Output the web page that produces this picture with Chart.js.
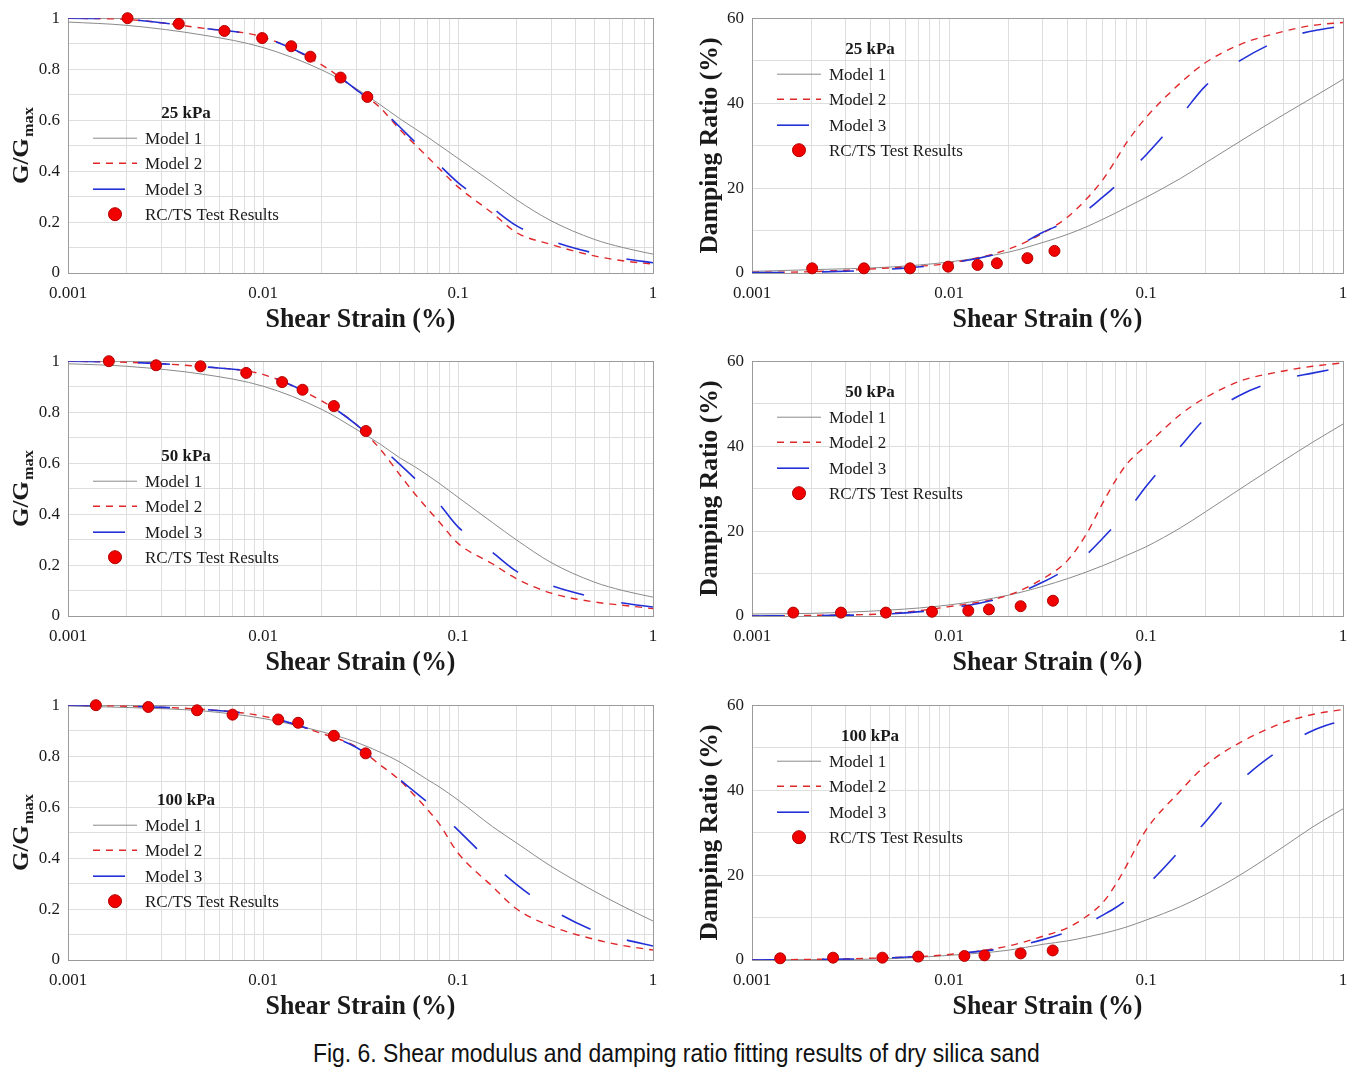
<!DOCTYPE html>
<html>
<head>
<meta charset="utf-8">
<script src="https://cdn.jsdelivr.net/npm/chart.js@4.4.1/dist/chart.umd.min.js"></script>
<style>
  body { margin: 0; background: #fff; width: 1366px; height: 1073px; position: relative; overflow: hidden; }
  .panel { position: absolute; height: 340px; }
  .panel.left { left: 0; width: 675px; }
  .panel.right { left: 680px; width: 686px; }
  #caption { position: absolute; top: 1038px; left: 313px; white-space: nowrap; transform-origin: 0 0;
             font: 26px "Liberation Sans", "DejaVu Sans", sans-serif; color: #111; }
</style>
</head>
<body>
<div class="panel left" style="top:0"><canvas id="g25"></canvas></div>
<div class="panel right" style="top:0"><canvas id="d25"></canvas></div>
<div class="panel left" style="top:343px"><canvas id="g50"></canvas></div>
<div class="panel right" style="top:343px"><canvas id="d50"></canvas></div>
<div class="panel left" style="top:687px"><canvas id="g100"></canvas></div>
<div class="panel right" style="top:687px"><canvas id="d100"></canvas></div>
<div id="caption">Fig. 6. Shear modulus and damping ratio fitting results of dry silica sand</div>

<script>
// --- data ---
const STRAIN = [0.001, 0.002, 0.005, 0.01, 0.02, 0.03, 0.04, 0.05, 0.06, 0.07, 0.08, 0.1, 0.15, 0.2, 0.3, 0.5, 0.7, 1];

const G25_M1 = [0.985, 0.972, 0.933, 0.885, 0.797, 0.724, 0.66, 0.607, 0.567, 0.533, 0.502, 0.450, 0.355, 0.287, 0.205, 0.132, 0.10, 0.074];
const G25_M2 = [1.0, 0.995, 0.96, 0.926, 0.817, 0.72, 0.648, 0.565, 0.505, 0.455, 0.41, 0.338, 0.235, 0.158, 0.112, 0.067, 0.048, 0.035];
const G25_M3 = [1.0, 0.995, 0.96, 0.925, 0.82, 0.72, 0.645, 0.575, 0.515, 0.47, 0.425, 0.355, 0.255, 0.185, 0.127, 0.078, 0.057, 0.04];
const D25_M1 = [0.39, 0.78, 1.4, 2.6, 4.9, 7.2, 9.1, 10.9, 12.6, 14.1, 15.5, 17.8, 22.3, 25.9, 31.0, 37.3, 41.3, 45.6];
const D25_M2 = [0.15, 0.3, 1.2, 2.3, 5.6, 9.4, 13.2, 17.5, 21.8, 26.5, 30.8, 36.6, 44.8, 49.5, 53.8, 56.9, 58.3, 59.0];
const D25_M3 = [0.1, 0.2, 0.9, 2.3, 5.4, 9.6, 12.2, 14.8, 17.8, 20.5, 23.3, 27.8, 37.0, 44.0, 50.0, 55.2, 57.0, 58.2];

const G50_M1 = [0.99, 0.98, 0.948, 0.902, 0.811, 0.733, 0.674, 0.622, 0.586, 0.552, 0.521, 0.466, 0.367, 0.298, 0.21, 0.133, 0.10, 0.074];
const G50_M2 = [1.0, 0.996, 0.978, 0.948, 0.844, 0.752, 0.654, 0.557, 0.48, 0.42, 0.37, 0.285, 0.205, 0.146, 0.09, 0.055, 0.042, 0.029];
const G50_M3 = [1.0, 0.996, 0.978, 0.948, 0.845, 0.752, 0.665, 0.597, 0.54, 0.485, 0.44, 0.35, 0.25, 0.175, 0.12, 0.073, 0.051, 0.035];
const D50_M1 = [0.47, 0.62, 1.4, 2.6, 4.9, 7.0, 8.8, 10.4, 11.8, 13.1, 14.3, 16.3, 20.8, 24.5, 29.9, 36.6, 40.9, 45.2];
const D50_M2 = [0.0, 0.15, 0.6, 2.2, 4.9, 8.8, 13.1, 19.4, 26.4, 31.9, 35.8, 40.1, 47.5, 51.4, 55.3, 57.7, 58.8, 59.6];
const D50_M3 = [0.0, 0.1, 0.5, 1.8, 4.7, 8.0, 11.2, 14.5, 18.2, 21.5, 24.5, 30.5, 40.0, 46.5, 52.0, 55.8, 57.2, 58.6];

const G100_M1 = [0.997, 0.991, 0.977, 0.948, 0.896, 0.855, 0.815, 0.778, 0.74, 0.707, 0.68, 0.628, 0.524, 0.459, 0.368, 0.27, 0.211, 0.153];
const G100_M2 = [1.0, 0.996, 0.983, 0.957, 0.889, 0.837, 0.765, 0.707, 0.645, 0.589, 0.535, 0.42, 0.289, 0.2, 0.133, 0.081, 0.057, 0.039];
const G100_M3 = [1.0, 0.996, 0.983, 0.957, 0.89, 0.835, 0.77, 0.71, 0.66, 0.618, 0.58, 0.51, 0.378, 0.296, 0.2, 0.115, 0.082, 0.055];
const D100_M1 = [0.0, 0.1, 0.3, 1.1, 2.3, 3.7, 4.5, 5.4, 6.2, 7.0, 7.8, 9.4, 12.6, 15.4, 20.0, 26.7, 31.3, 35.6];
const D100_M2 = [0.0, 0.15, 0.55, 1.3, 3.3, 5.6, 7.6, 10.3, 13.4, 17.7, 22.4, 30.6, 39.9, 45.8, 51.2, 55.9, 57.8, 59.0];
const D100_M3 = [0.0, 0.1, 0.5, 1.4, 2.9, 4.8, 6.6, 8.5, 10.5, 12.3, 14.2, 17.5, 26.0, 32.5, 42.0, 50.1, 54.0, 56.5];

// RC/TS test points
const TEST25_STRAIN = [0.00202, 0.0037, 0.00634, 0.0099, 0.01396, 0.0175, 0.025, 0.0343];
const TEST25_G = [1.0, 0.978, 0.95, 0.922, 0.89, 0.849, 0.767, 0.691];
const TEST25_D = [1.1, 1.1, 1.1, 1.5, 1.9, 2.3, 3.5, 5.2];
const TEST50_STRAIN = [0.00162, 0.00283, 0.00478, 0.0082, 0.01253, 0.01595, 0.0231, 0.0337];
const TEST50_G = [1.0, 0.984, 0.98, 0.954, 0.918, 0.888, 0.824, 0.726];
const TEST50_D = [0.8, 0.8, 0.8, 1.0, 1.25, 1.55, 2.3, 3.6];
const TEST100_STRAIN = [0.00139, 0.00258, 0.00459, 0.00698, 0.01197, 0.01514, 0.0231, 0.0336];
const TEST100_G = [1.0, 0.993, 0.98, 0.963, 0.944, 0.931, 0.88, 0.811];
const TEST100_D = [0.4, 0.55, 0.55, 0.8, 0.95, 1.1, 1.55, 2.25];

// tick labels / texts
const X_TICK_LABELS = ['0.001', '0.01', '0.1', '1'];
const G_TICK_LABELS = ['0', '0.2', '0.4', '0.6', '0.8', '1'];
const D_TICK_LABELS = ['0', '20', '40', '60'];
const LEGEND_LABELS = ['Model 1', 'Model 2', 'Model 3', 'RC/TS Test Results'];
const X_TITLE = 'Shear Strain (%)';
const D_TITLE = 'Damping Ratio (%)';

const SERIF = "'Liberation Serif', 'DejaVu Serif', serif";
Chart.defaults.font.family = SERIF;
Chart.defaults.color = '#1a1a1a';

// log grid: 1..9 in each decade
const decades = X_TICK_LABELS.map(parseFloat);
const xGrid = [];
decades.slice(0, -1).forEach(d => { for (let k = 1; k <= 9; k++) xGrid.push(+(k * d).toPrecision(3)); });
xGrid.push(decades[decades.length - 1]);

const near = (a, b) => Math.abs(a - b) < 1e-9;

// draws text squeezed/stretched to a target width (the original font is condensed)
function fitText(ctx, text, x, y, width) {
  const w = ctx.measureText(text).width;
  ctx.save();
  ctx.translate(x, y);
  ctx.scale(width / w, 1);
  ctx.textAlign = 'center';
  ctx.fillText(text, 0, 0);
  ctx.restore();
}

const decor = {
  id: 'decor',
  beforeDatasetsDraw(chart) {
    const { ctx, chartArea: a } = chart;
    ctx.save();
    ctx.strokeStyle = '#9b9b9b';
    ctx.lineWidth = 1;
    ctx.strokeRect(Math.round(a.left) + 0.5, Math.round(a.top) + 0.5, Math.round(a.right - a.left), Math.round(a.bottom - a.top));
    ctx.restore();
  },
  afterDraw(chart, args, opts) {
    const { ctx, chartArea: a } = chart;
    const ds = chart.data.datasets;
    ctx.save();
    ctx.fillStyle = '#1a1a1a';
    ctx.textBaseline = 'middle';

    // legend
    const ly = a.top + opts.legendTop;
    ctx.font = 'bold 17px ' + SERIF;
    ctx.textAlign = 'center';
    ctx.fillText(opts.pressure, a.left + 118, ly);
    ctx.font = '17px ' + SERIF;
    ctx.textAlign = 'left';
    const rowY = [25, 50, 76, 101];
    for (let i = 0; i < 4; i++) {
      const y = ly + rowY[i];
      const d = ds[i];
      if (i < 3) {
        ctx.save();
        ctx.strokeStyle = d.borderColor;
        ctx.lineWidth = d.borderWidth;
        ctx.setLineDash(d.borderDash || []);
        ctx.beginPath();
        ctx.moveTo(a.left + 25, y);
        ctx.lineTo(a.left + 69, y);
        ctx.stroke();
        ctx.restore();
      } else {
        ctx.save();
        ctx.fillStyle = d.backgroundColor;
        ctx.strokeStyle = d.borderColor;
        ctx.beginPath();
        ctx.arc(a.left + 47, y, 6.5, 0, Math.PI * 2);
        ctx.fill();
        ctx.stroke();
        ctx.restore();
      }
      ctx.fillText(LEGEND_LABELS[i], a.left + 77, y + 1);
    }

    // x title
    ctx.font = 'bold 28px ' + SERIF;
    fitText(ctx, X_TITLE, (a.left + a.right) / 2, a.bottom + 47, 190);

    // y title
    const cy = (a.top + a.bottom) / 2;
    ctx.save();
    if (opts.kind === 'G') {
      ctx.translate(a.left - 46, cy);
      ctx.rotate(-Math.PI / 2);
      ctx.font = 'bold 23px ' + SERIF;
      const w1 = ctx.measureText('G/G').width;
      ctx.font = 'bold 15px ' + SERIF;
      const w2 = ctx.measureText('max').width;
      const sx = 77 / (w1 + w2 + 1);
      ctx.scale(sx, 1);
      const x0 = -(w1 + w2 + 1) / 2;
      ctx.textAlign = 'left';
      ctx.font = 'bold 23px ' + SERIF;
      ctx.fillText('G/G', x0, 0);
      ctx.font = 'bold 15px ' + SERIF;
      ctx.fillText('max', x0 + w1 + 1, 7);
    } else {
      ctx.translate(a.left - 41, cy);
      ctx.rotate(-Math.PI / 2);
      ctx.font = 'bold 25px ' + SERIF;
      fitText(ctx, D_TITLE, 0, 0, 216);
    }
    ctx.restore();
    ctx.restore();
  }
};

function makeChart(id, kind, pressure, m1, m2, m3, testX, testY) {
  const isG = kind === 'G';
  const yLabels = isG ? G_TICK_LABELS : D_TICK_LABELS;
  const yMax = parseFloat(yLabels[yLabels.length - 1]);
  const yStep = parseFloat(yLabels[1]) / 2;   // minor grid halfway between labels
  const pts = arr => STRAIN.map((x, i) => ({ x: x, y: arr[i] }));
  const line = { pointRadius: 0, fill: false, cubicInterpolationMode: 'monotone' };

  new Chart(document.getElementById(id), {
    type: 'line',
    data: {
      datasets: [
        { ...line, label: LEGEND_LABELS[0], data: pts(m1), borderColor: '#8a8a8a', borderWidth: 1, order: 3 },
        { ...line, label: LEGEND_LABELS[1], data: pts(m2), borderColor: '#e0282b', borderWidth: 1.4, borderDash: [7, 6], order: 2 },
        { ...line, label: LEGEND_LABELS[2], data: pts(m3), borderColor: '#2230d8', borderWidth: 1.6, borderDash: [32, 38], order: 1 },
        { label: LEGEND_LABELS[3], data: testX.map((x, i) => ({ x: x, y: testY[i] })), showLine: false,
          pointRadius: 5.5, pointBackgroundColor: '#f20000', pointBorderColor: '#b00000', pointBorderWidth: 1,
          backgroundColor: '#f20000', borderColor: '#b00000', clip: false, order: 0 }
      ]
    },
    options: {
      responsive: true,
      maintainAspectRatio: false,
      animation: false,
      events: [],
      layout: { padding: { top: 17, right: isG ? 22 : 23, left: 0, bottom: 0 } },
      plugins: {
        legend: { display: false },
        tooltip: { enabled: false },
        decor: { kind: kind, pressure: pressure, legendTop: isG ? 95 : 31 }
      },
      scales: {
        x: {
          type: 'logarithmic',
          min: decades[0],
          max: decades[decades.length - 1],
          afterBuildTicks: s => { s.ticks = xGrid.map(v => ({ value: v })); },
          afterFit: s => { s.height = 67; },
          grid: { color: '#dedede', drawTicks: false },
          border: { display: false },
          ticks: {
            autoSkip: false, maxRotation: 0, padding: 10, font: { size: 17 },
            callback: v => { const i = decades.findIndex(d => near(d, v)); return i >= 0 ? X_TICK_LABELS[i] : ''; }
          }
        },
        y: {
          type: 'linear',
          min: 0,
          max: yMax,
          afterFit: s => { s.width = isG ? 68 : 72; },
          grid: { color: '#dedede', drawTicks: false },
          border: { display: false },
          ticks: {
            stepSize: yStep, padding: 8, font: { size: 17 },
            callback: v => { const l = yLabels.find(t => near(parseFloat(t), v)); return l === undefined ? '' : l; }
          }
        }
      }
    },
    plugins: [decor]
  });
}

makeChart('g25', 'G', '25 kPa', G25_M1, G25_M2, G25_M3, TEST25_STRAIN, TEST25_G);
makeChart('d25', 'D', '25 kPa', D25_M1, D25_M2, D25_M3, TEST25_STRAIN, TEST25_D);
makeChart('g50', 'G', '50 kPa', G50_M1, G50_M2, G50_M3, TEST50_STRAIN, TEST50_G);
makeChart('d50', 'D', '50 kPa', D50_M1, D50_M2, D50_M3, TEST50_STRAIN, TEST50_D);
makeChart('g100', 'G', '100 kPa', G100_M1, G100_M2, G100_M3, TEST100_STRAIN, TEST100_G);
makeChart('d100', 'D', '100 kPa', D100_M1, D100_M2, D100_M3, TEST100_STRAIN, TEST100_D);

// caption: squeeze to the width of the original line
const cap = document.getElementById('caption');
cap.style.transform = 'scaleX(' + (727 / cap.offsetWidth) + ')';
</script>
</body>
</html>
